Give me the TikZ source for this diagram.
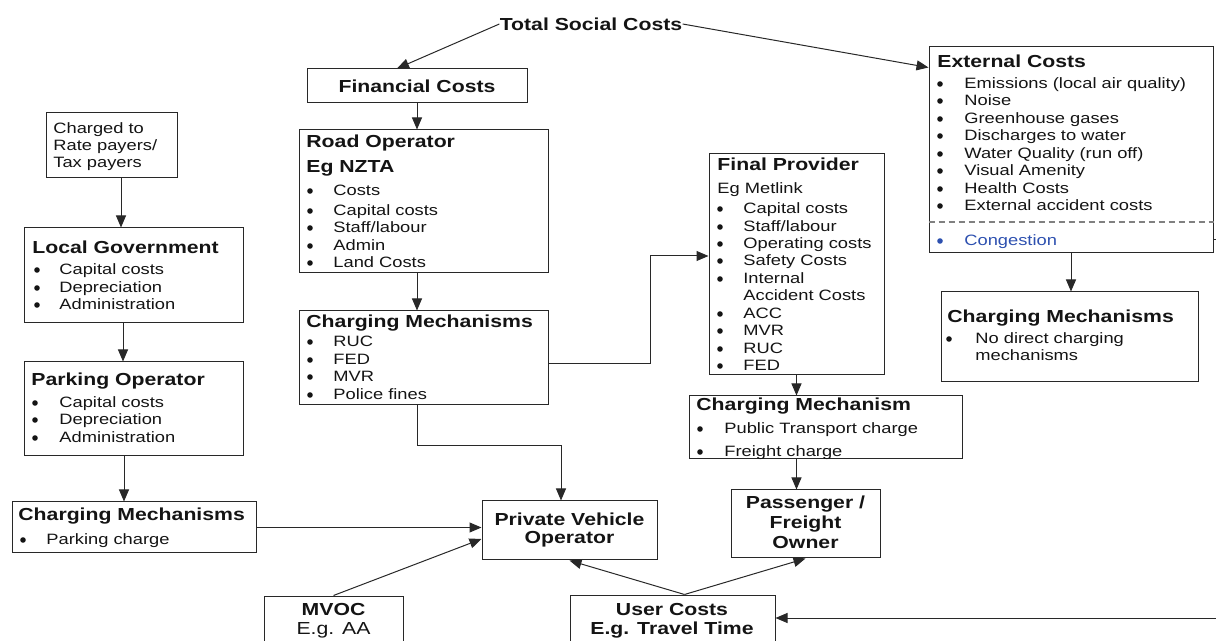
\documentclass[tikz,border=0pt]{standalone}
\usepackage{fontspec}
\setmainfont{Liberation Sans}[FakeStretch=1.22]
\usetikzlibrary{arrows.meta,calc}
\definecolor{ln}{RGB}{40,40,40}
\definecolor{tx}{RGB}{20,20,20}
\definecolor{cong}{RGB}{45,80,175}
\tikzset{
  box/.style={draw=ln, line width=0.5pt, rectangle, inner sep=0pt},
  txt/.style={font=\fontsize{7.5}{9}\selectfont, inner sep=0pt, text=tx},
  ttl/.style={font=\fontsize{8.7}{10}\selectfont\bfseries, inner sep=0pt, text=tx},
  reg/.style={font=\fontsize{8.7}{10}\selectfont, inner sep=0pt, text=tx},
  arr/.style={draw=ln, line width=0.5pt, -{Triangle[length=6pt,width=5pt]}},
  con/.style={draw=ln, line width=0.5pt},
  bul/.style={fill=tx},
}
\newcommand{\bx}[5]{\node[box, minimum width={(#4-#2)*0.5pt}, minimum height={(#5-#3)*0.5pt}] (#1) at ({(#2+#4)/2},{(#3+#5)/2}) {};}
\newcommand{\itm}[5]{\fill[bul] (#2,#4+1) circle[radius=1.4pt]; \node[txt,anchor=mid west] (#1) at (#3,#4) {#5};}
\newcommand{\ttlw}[4]{\node[ttl,anchor=mid west] (#1) at (#2,#3) {#4};}
\begin{document}
\begin{tikzpicture}[x=0.5pt,y=-0.5pt]
\useasboundingbox (0,0) rectangle (1216,641);
% boxes
\bx{fin}{307}{69}{527}{103}
\bx{road}{299}{130}{548}{273}
\bx{rcm}{299}{311}{548}{405}
\bx{ext}{929}{47}{1213}{253}
\bx{ecm}{941}{292}{1198}{382}
\bx{fp}{709}{154}{884}{375}
\bx{fcm}{689}{396}{962}{459}
\bx{pfo}{731}{490}{880}{558}
\bx{pvo}{482}{501}{657}{560}
\bx{uc}{570}{595}{775}{665}
\bx{mvoc}{264}{596}{403}{665}
\bx{chg}{46}{113}{177}{178}
\bx{lg}{24}{228}{243}{323}
\bx{po}{24}{362}{243}{456}
\bx{lcm}{12}{502}{256}{553}
% total social costs
\node[ttl] (tsc) at (591,24) {Total Social Costs};
% financial costs
\node[ttl] (fint) at (417,86) {Financial Costs};
% road operator
\ttlw{ro1}{306}{142}{Road Operator}
\ttlw{ro2}{306}{167}{Eg NZTA}
\itm{ro3}{310}{333}{190}{Costs}
\itm{ro4}{310}{333}{210}{Capital costs}
\itm{ro5}{310}{333}{227}{Staff/labour}
\itm{ro6}{310}{333}{245}{Admin}
\itm{ro7}{310}{333}{262}{Land Costs}
% road charging
\ttlw{rc1}{306}{322}{Charging Mechanisms}
\itm{rc2}{310}{333}{341}{RUC}
\itm{rc3}{310}{333}{359}{FED}
\itm{rc4}{310}{333}{376}{MVR}
\itm{rc5}{310}{333}{394}{Police fines}
% final provider
\ttlw{fp1}{717}{165}{Final Provider}
\node[txt,anchor=mid west] (fp2) at (717,188) {Eg Metlink};
\itm{fp3}{720}{743}{208}{Capital costs}
\itm{fp4}{720}{743}{226}{Staff/labour}
\itm{fp5}{720}{743}{243}{Operating costs}
\itm{fp6}{720}{743}{260}{Safety Costs}
\itm{fp7}{720}{743}{278}{Internal}
\node[txt,anchor=mid west] (fp8) at (743,295) {Accident Costs};
\itm{fp9}{720}{743}{313}{ACC}
\itm{fp10}{720}{743}{330}{MVR}
\itm{fp11}{720}{743}{348}{RUC}
\itm{fp12}{720}{743}{365}{FED}
% final charging
\ttlw{fc1}{696}{405}{Charging Mechanism}
\itm{fc2}{700}{724}{428}{Public Transport charge}
\itm{fc3}{700}{724}{451}{Freight charge}
% external costs
\ttlw{ex1}{937}{62}{External Costs}
\itm{ex2}{940}{964}{83}{Emissions (local air quality)}
\itm{ex3}{940}{964}{100}{Noise}
\itm{ex4}{940}{964}{118}{Greenhouse gases}
\itm{ex5}{940}{964}{135}{Discharges to water}
\itm{ex6}{940}{964}{153}{Water Quality (run off)}
\itm{ex7}{940}{964}{170}{Visual Amenity}
\itm{ex8}{940}{964}{188}{Health Costs}
\itm{ex9}{940}{964}{205}{External accident costs}
\draw[gray, line width=0.6pt, dash pattern=on 3pt off 2pt] (ext.west |- 0,222) -- (ext.east |- 0,222);
\fill[cong] (940,241) circle[radius=1.4pt];
\node[txt,anchor=mid west,text=cong] (ex10) at (964,240) {Congestion};
% external charging
\ttlw{ec1}{947}{317}{Charging Mechanisms}
\itm{ec2}{949}{975}{338}{No direct charging}
\node[txt,anchor=mid west] (ec3) at (975,355) {mechanisms};
% left column
\node[txt,anchor=mid west] (ch1) at (53,128) {Charged to};
\node[txt,anchor=mid west] (ch2) at (53,145) {Rate payers/};
\node[txt,anchor=mid west] (ch3) at (53,162) {Tax payers};
\ttlw{lg1}{32}{248}{Local Government}
\itm{lg2}{37}{59}{269}{Capital costs}
\itm{lg3}{37}{59}{287}{Depreciation}
\itm{lg4}{37}{59}{304}{Administration}
\ttlw{po1}{31}{380}{Parking Operator}
\itm{po2}{35}{59}{402}{Capital costs}
\itm{po3}{35}{59}{419}{Depreciation}
\itm{po4}{35}{59}{437}{Administration}
\ttlw{lc1}{18}{515}{Charging Mechanisms}
\itm{lc2}{23}{46}{539}{Parking charge}
% centred boxes
\node[ttl] (pv1) at (569.5,519) {Private Vehicle};
\node[ttl] (pv2) at (569.5,539) {Operator};
\node[ttl] (pf1) at (805.5,504) {Passenger /};
\node[ttl] (pf2) at (805.5,524) {Freight};
\node[ttl] (pf3) at (805.5,543) {Owner};
\node[ttl] (mv1) at (333.5,610) {MVOC};
\node[reg] (mv2) at (333.5,630) {E.g. AA};
\node[ttl] (uc1) at (672,610) {User Costs};
\node[ttl] (uc2) at (672,630) {E.g. Travel Time};
% helper coordinates
\coordinate (a1) at (121,0);
\coordinate (a2) at (123,0);
\coordinate (a3) at (124,0);
\coordinate (j1) at (650,256);
\coordinate (j2) at (561,446);
\coordinate (re) at (1216,618);
\coordinate (ce) at (1216,240);
% connectors
\draw[arr] (tsc.west) -- ([xshift=-10pt]fin.north);
\draw[arr] (tsc.east) -- ([yshift=-10.5pt]ext.north west);
\draw[arr] (fin.south) -- (fin.south |- road.north);
\draw[arr] (road.south -| fin.south) -- (rcm.north -| fin.south);
\draw[arr] ([yshift=-3pt]rcm.east) -| (j1) -- (j1 -| fp.west);
\draw[arr] (rcm.south -| fin.south) |- (j2) -- (j2 |- pvo.north);
\draw[arr] (fp.south) -- (fp.south |- fcm.north);
\draw[arr] (fp.south |- fcm.south) -- (fp.south |- pfo.north);
\draw[arr] ([xshift=6pt]uc.north) -- (pvo.south);
\draw[arr] ([xshift=6pt]uc.north) -- (pfo.south);
\draw[arr] (re) -- (uc.east |- re);
\draw[arr] (ext.south) -- (ext.south |- ecm.north);
\draw[con] (ce -| ext.east) -- (ce);
\draw[arr] (chg.south -| a1) -- (lg.north -| a1);
\draw[arr] (lg.south -| a2) -- (po.north -| a2);
\draw[arr] (po.south -| a3) -- (lcm.north -| a3);
\draw[arr] (lcm.east) -- (lcm.east -| pvo.west);
\draw[arr] (mvoc.north) -- ([yshift=-4.25pt]pvo.west);
\end{tikzpicture}
\end{document}
